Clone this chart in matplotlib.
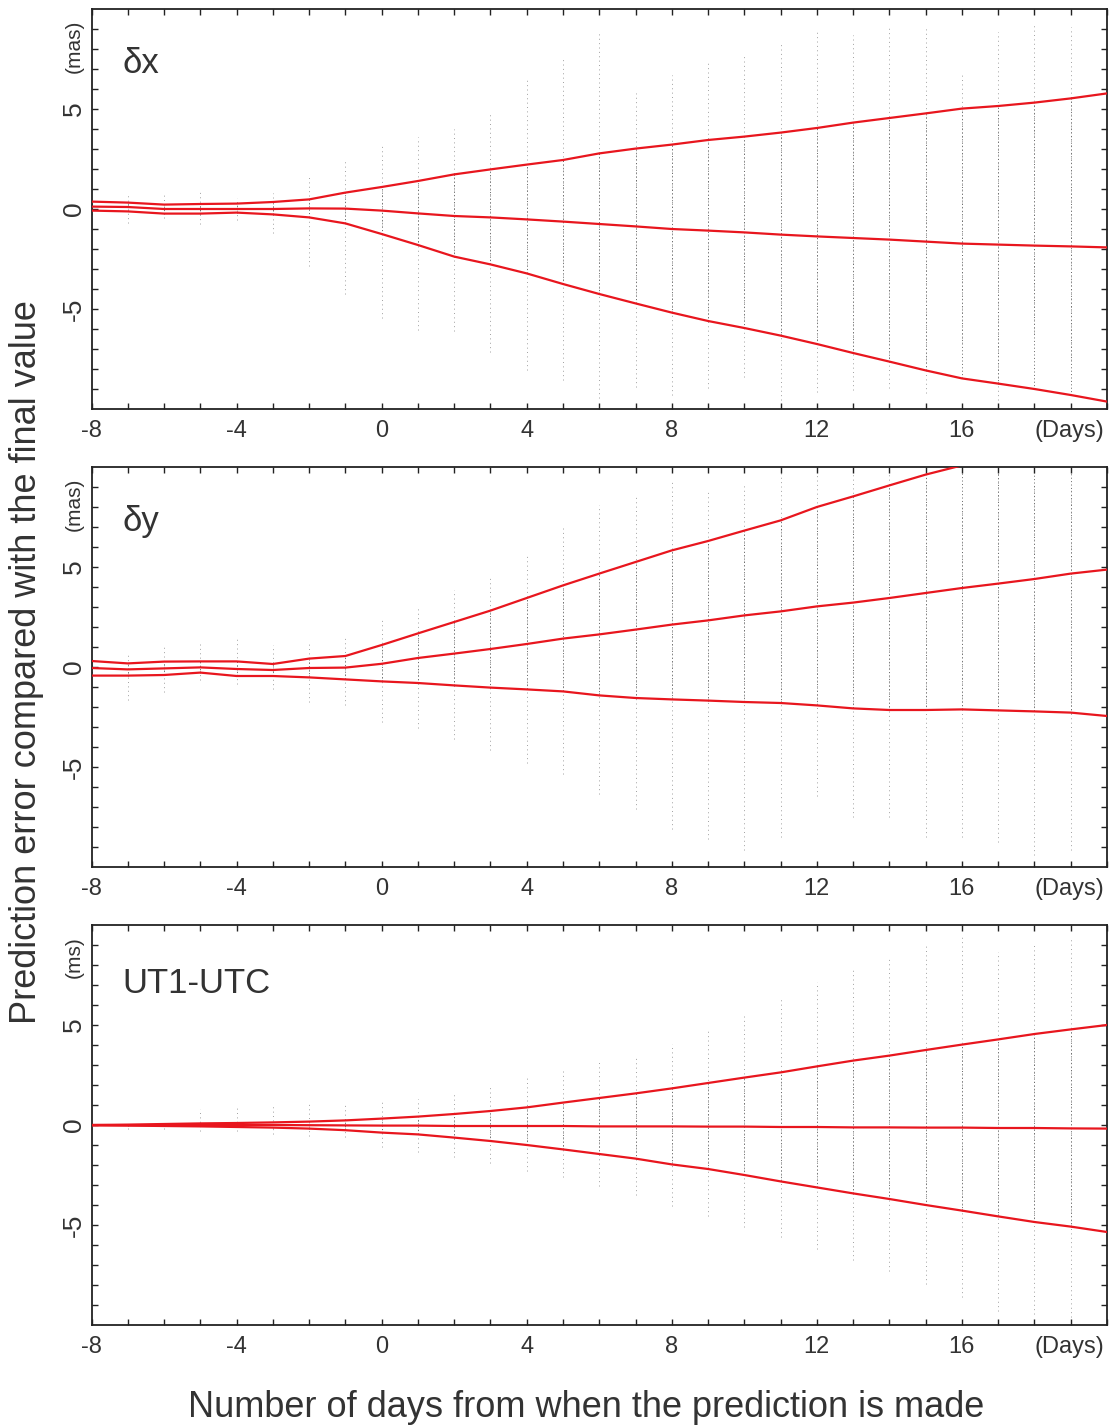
import matplotlib
matplotlib.use("Agg")
import matplotlib.pyplot as plt
import matplotlib.transforms as mtransforms
import numpy as np

plt.rcParams['font.family'] = ['Liberation Sans', 'DejaVu Sans']

# ---------------- data ----------------
days = list(range(-8, 21))

dx_upper = [0.37, 0.32, 0.22, 0.25, 0.27, 0.35, 0.48, 0.82, 1.10, 1.40, 1.73, 1.98, 2.22, 2.45, 2.78,
            3.02, 3.22, 3.45, 3.62, 3.82, 4.05, 4.32, 4.55, 4.78, 5.02, 5.15, 5.32, 5.53, 5.78]
dx_mid = [0.12, 0.10, 0.00, 0.00, 0.00, 0.00, 0.03, 0.02, -0.08, -0.22, -0.35, -0.42, -0.52, -0.63, -0.75,
          -0.87, -1.00, -1.08, -1.17, -1.28, -1.37, -1.45, -1.53, -1.63, -1.73, -1.78, -1.83, -1.87, -1.92]
dx_lower = [-0.08, -0.12, -0.23, -0.23, -0.18, -0.27, -0.42, -0.72, -1.25, -1.80, -2.38, -2.77, -3.22, -3.75, -4.25,
            -4.72, -5.18, -5.60, -5.95, -6.33, -6.75, -7.20, -7.63, -8.07, -8.47, -8.73, -9.00, -9.30, -9.63]

dy_upper = [0.30, 0.18, 0.27, 0.28, 0.28, 0.15, 0.42, 0.55, 1.10, 1.68, 2.25, 2.82, 3.45, 4.08, 4.67,
            5.25, 5.83, 6.30, 6.82, 7.33, 8.00, 8.53, 9.08, 9.62, 10.08, 10.60, 11.15, 11.70, 12.25]
dy_mid = [-0.05, -0.12, -0.07, -0.02, -0.10, -0.15, -0.05, -0.03, 0.16, 0.45, 0.67, 0.90, 1.15, 1.42, 1.63,
          1.87, 2.12, 2.33, 2.58, 2.78, 3.03, 3.22, 3.45, 3.70, 3.95, 4.17, 4.40, 4.67, 4.87]
dy_lower = [-0.43, -0.43, -0.40, -0.28, -0.45, -0.45, -0.52, -0.62, -0.72, -0.80, -0.92, -1.03, -1.12, -1.22, -1.42,
            -1.55, -1.62, -1.68, -1.75, -1.80, -1.92, -2.07, -2.15, -2.15, -2.12, -2.17, -2.22, -2.28, -2.45]

ut_upper = [0.00, 0.02, 0.05, 0.08, 0.10, 0.13, 0.17, 0.23, 0.32, 0.42, 0.55, 0.70, 0.88, 1.12, 1.35,
            1.58, 1.83, 2.10, 2.37, 2.63, 2.93, 3.22, 3.47, 3.75, 4.02, 4.28, 4.55, 4.78, 5.00]
ut_mid = [0.00, -0.01, -0.01, 0.00, 0.00, 0.00, -0.01, -0.02, -0.03, -0.03, -0.05, -0.05, -0.05, -0.05, -0.07,
          -0.07, -0.07, -0.08, -0.08, -0.10, -0.10, -0.12, -0.12, -0.13, -0.13, -0.15, -0.15, -0.17, -0.18]
ut_lower = [-0.02, -0.03, -0.05, -0.07, -0.10, -0.13, -0.18, -0.26, -0.38, -0.47, -0.63, -0.80, -1.00, -1.22, -1.45,
            -1.68, -1.97, -2.20, -2.50, -2.82, -3.12, -3.42, -3.70, -4.00, -4.28, -4.57, -4.85, -5.08, -5.35]

# spread of the individual prediction errors for each day (max / min)
dx_hi = [0.5, 0.7, 0.7, 0.87, 0.53, 0.78, 1.65, 2.48, 3.28, 3.6, 4.0, 4.78, 6.48, 7.48, 8.9,
         5.78, 6.7, 7.3, 7.7, 8.28, 8.83, 8.7, 9.2, 9.1, 6.7, 8.87, 9.2, 9.1, 9.0]
dx_lo = [-0.5, -0.72, -0.47, -0.77, -0.55, -1.2, -2.83, -4.25, -5.47, -6.05, -6.1, -7.13, -8.05, -8.55, -9.47,
         -8.88, -9.3, -8.97, -8.38, -9.55, -9.13, -9.05, -8.97, -9.22, -6.72, -9.55, -6.22, -7.55, -9.0]
dy_hi = [0.5, 0.58, 1.0, 1.28, 1.45, 1.08, 1.28, 1.45, 2.33, 2.97, 3.83, 4.5, 5.62, 6.97, 8.08,
         8.5, 9.25, 8.75, 9.17, 9.9, 9.9, 9.9, 9.9, 9.7, 8.25, 9.7, 9.0, 8.9, 9.0]
dy_lo = [-0.5, -1.67, -1.25, -0.67, -0.83, -1.08, -1.75, -1.92, -2.75, -3.05, -3.58, -4.17, -4.78, -5.33, -6.33,
         -7.08, -8.08, -8.58, -9.17, -8.5, -6.45, -7.5, -7.5, -8.5, -8.5, -8.75, -9.4, -9.17, -9.0]
ut_hi = [0.2, 0.2, 0.2, 0.8, 0.88, 1.0, 1.08, 1.1, 1.17, 1.3, 1.58, 1.97, 2.38, 2.77, 3.22,
         3.52, 4.05, 4.85, 5.58, 6.3, 7.13, 7.75, 8.47, 8.97, 9.47, 8.63, 9.05, 9.38, 9.0]
ut_lo = [-0.2, -0.2, -0.2, -0.28, -0.3, -0.45, -0.53, -0.62, -1.12, -1.37, -1.58, -1.92, -2.28, -2.62, -3.03,
         -3.48, -4.03, -4.53, -5.08, -5.62, -6.2, -6.75, -7.28, -7.95, -8.62, -9.28, -9.45, -9.62, -9.0]

panel_titles = ["\u03b4x", "\u03b4y", "UT1-UTC"]
panel_units = ["(mas)", "(mas)", "(ms)"]
x_ticks = [-8, -4, 0, 4, 8, 12, 16]
y_ticks = [-5, 0, 5]
x_unit = "(Days)"
ylabel = "Prediction error compared with the final value"
xlabel = "Number of days from when the prediction is made"

panels = [
    (dx_upper, dx_mid, dx_lower, dx_hi, dx_lo),
    (dy_upper, dy_mid, dy_lower, dy_hi, dy_lo),
    (ut_upper, ut_mid, ut_lower, ut_hi, ut_lo),
]

# ---------------- figure ----------------
W, H = 1114, 1427
fig = plt.figure(figsize=(W / 100, H / 100), dpi=100)

txt = '#333333'
red = '#e8161e'
left, width = 91.5 / W, (1107 - 91.5) / W
tops = [9, 467, 925]
ph = 400

for i, (up, mid, lo, hi, lw_) in enumerate(panels):
    ax = fig.add_axes([left, 1 - (tops[i] + ph) / H, width, ph / H])
    ax.set_xlim(-8, 20)
    ax.set_ylim(-10, 10)

    # scatter of individual errors (light) and dense core (darker)
    ax.vlines(days, lw_, hi, colors='#a0a0a0', linewidth=0.7,
              linestyles=(0, (1, 3.5)), zorder=1)
    ax.vlines(days, lo, up, colors='#666666', linewidth=0.7,
              linestyles=(0, (1, 2.5)), zorder=1)

    for series in (up, mid, lo):
        ax.plot(days, series, color=red, linewidth=1.6, zorder=3)

    for s in ax.spines.values():
        s.set_color('#222222')
        s.set_linewidth(1.3)

    ax.set_xticks(x_ticks)
    ax.set_xticks(days, minor=True)
    ax.set_yticks(y_ticks)
    ax.set_yticks(range(-9, 10), minor=True)
    ax.set_xticklabels([str(v) for v in x_ticks])
    ax.set_yticklabels([str(v) for v in y_ticks], rotation=90, va='center')
    ax.tick_params(which='both', direction='in', top=True, right=True,
                   length=4, width=1, color='#222222')
    ax.tick_params(axis='x', labelsize=17, labelcolor=txt, pad=8)
    ax.tick_params(axis='y', labelsize=19, labelcolor=txt, pad=4)

    trans = mtransforms.blended_transform_factory(ax.transData, ax.transAxes)
    ax.text(18.95, -0.055, x_unit, transform=trans, ha='center', va='center',
            fontsize=17, color=txt)

    ytrans = mtransforms.blended_transform_factory(ax.transAxes, ax.transData)
    ax.text(-0.0165, 9.45, panel_units[i], transform=ytrans, rotation=90,
            ha='center', va='top', fontsize=15, color=txt)

    ax.text(-7.15, 6.8 if i < 2 else 6.6, panel_titles[i], ha='left', va='baseline',
            fontsize=25, color=txt)

fig.text(27 / W, 1 - 662 / H, ylabel, rotation=90, ha='center', va='center',
         fontsize=26, color=txt)
fig.text(586 / W, 1 - 1417 / H, xlabel, ha='center', va='baseline',
         fontsize=26, color=txt)

fig.savefig("out.png", dpi=100)
